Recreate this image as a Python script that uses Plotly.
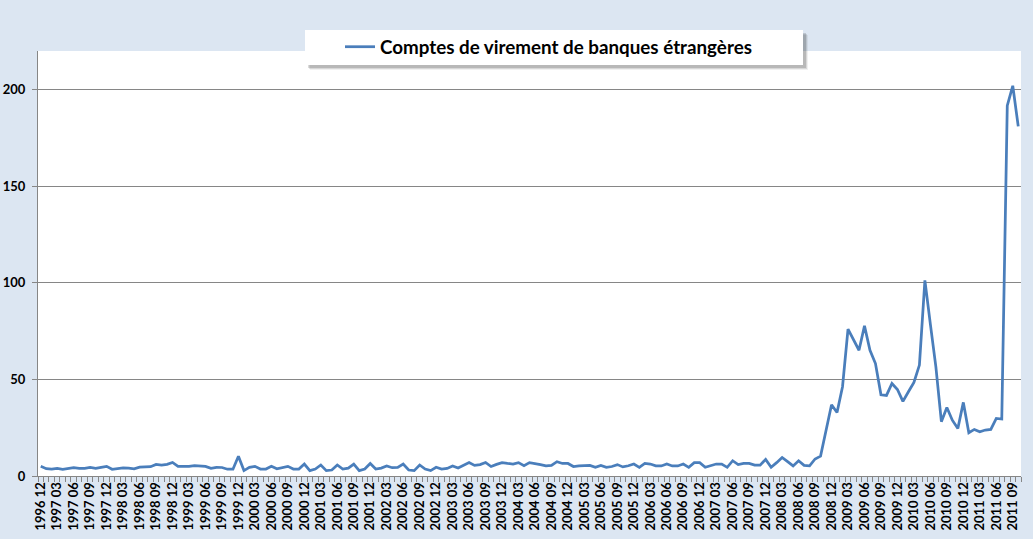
import plotly.graph_objects as go

# Comptes de virement de banques étrangères, monthly, 1996-12 .. 2011-10
start_year, start_month = 1996, 12

vals_1996_2000 = [
    5.0,                                                        # 1996-12
    3.8, 3.6, 3.9, 3.5, 3.8, 4.3, 4.0, 4.0, 4.4, 4.0, 4.5, 5.0,  # 1997
    3.5, 4.0, 4.2, 4.1, 3.7, 4.6, 4.7, 4.8, 6.0, 5.6, 6.0, 7.0,  # 1998
    5.0, 5.0, 5.0, 5.4, 5.1, 5.0, 4.0, 4.5, 4.4, 3.5, 3.5, 10.2,  # 1999
    2.8, 4.5, 5.0, 3.6, 3.6, 5.0, 3.7, 4.2, 5.0, 3.6, 3.6, 6.2,  # 2000
]
vals_2001_2005 = [
    2.8, 3.6, 5.7, 2.8, 3.1, 5.7, 3.6, 4.1, 6.2, 2.8, 3.6, 6.5,  # 2001
    3.6, 4.1, 5.2, 4.3, 4.5, 6.2, 3.1, 2.8, 5.7, 3.6, 2.8, 4.5,  # 2002
    3.6, 3.9, 5.2, 4.1, 5.7, 7.0, 5.5, 5.9, 7.0, 4.9, 6.0, 6.9,  # 2003
    6.5, 6.2, 6.9, 5.3, 6.9, 6.5, 5.9, 5.2, 5.5, 7.4, 6.5, 6.5,  # 2004
    4.9, 5.2, 5.5, 5.5, 4.5, 5.5, 4.5, 4.9, 5.9, 4.7, 5.3, 6.2,  # 2005
]
vals_2006_2011 = [
    4.5, 6.5, 6.2, 5.3, 5.2, 6.2, 5.2, 5.2, 6.2, 4.5, 6.9, 6.9,  # 2006
    4.5, 5.3, 6.2, 6.2, 4.5, 7.9, 5.9, 6.5, 6.5, 5.6, 5.6, 8.6,  # 2007
    4.5, 6.9, 9.6, 7.4, 5.2, 7.9, 5.5, 5.3, 8.8, 10.3, 22.9, 36.9,  # 2008
    32.9, 46.2, 76.0, 70.6, 65.1, 77.7, 65.1, 58.2, 42.0, 41.7, 47.9, 44.8,  # 2009
    38.6, 43.6, 48.4, 57.4, 101.3, 78.5, 56.5, 28.1, 35.5, 28.9, 24.6, 38.1,  # 2010
    22.4, 24.1, 22.9, 23.8, 24.1, 29.8, 29.5, 191.7, 202.0, 181.0,  # 2011
]
values = vals_1996_2000 + vals_2001_2005 + vals_2006_2011

months = []
y, m = start_year, start_month
for _ in values:
    months.append(f"{y} {m:02d}")
    m += 1
    if m > 12:
        y, m = y + 1, 1

x_idx = list(range(len(values)))
label_idx = x_idx[::3]
label_txt = [months[i] for i in label_idx]

BG = "#DCE6F2"
LINE = "#4A7EBB"
GRID = "#868686"
FONT = "Lato"

fig = go.Figure()
fig.add_trace(go.Scatter(
    x=x_idx, y=values,
    mode="lines",
    name="Comptes de virement de banques étrangères",
    line=dict(color=LINE, width=2.75),
    hovertext=months,
))

W, H = 1033, 539
L, R, T, B = 38, 12, 51, 63
pw, ph = W - L - R, H - T - B


def px_x(px):
    return (px - L) / pw


def px_y(py):
    return (H - B - py) / ph


# legend box with soft shadow
for off, alpha in [(5, 0.06), (4, 0.10), (3, 0.14)]:
    fig.add_shape(type="rect", xref="paper", yref="paper",
                  x0=px_x(305 + off), x1=px_x(803 + off),
                  y0=px_y(65 + off), y1=px_y(30 + off),
                  fillcolor=f"rgba(0,0,0,{alpha})", line_width=0, layer="above")
fig.add_shape(type="rect", xref="paper", yref="paper",
              x0=px_x(305), x1=px_x(803), y0=px_y(65), y1=px_y(30),
              fillcolor="white", line_width=0, layer="above")

fig.update_layout(
    width=W, height=H,
    margin=dict(l=L, r=R, t=T, b=B, autoexpand=False),
    paper_bgcolor=BG,
    plot_bgcolor="white",
    font=dict(family=FONT, color="black"),
    showlegend=True,
    legend=dict(
        x=px_x(340), y=px_y(47), xanchor="left", yanchor="middle",
        bgcolor="rgba(0,0,0,0)",
        font=dict(family=FONT, size=18.8, color="black", weight="bold"),
    ),
    hovermode="x",
)
fig.update_xaxes(
    range=[-0.5, len(values) - 0.5],
    tickmode="array", tickvals=label_idx, ticktext=label_txt,
    tickangle=-90, ticks="", automargin=False,
    tickfont=dict(family=FONT, size=13, color="black", weight="bold"),
    showgrid=False, zeroline=False,
    showline=True, linecolor=GRID, linewidth=1,
    minor=dict(ticks="outside", tick0=-0.5, dtick=1, ticklen=5,
               tickcolor=GRID, tickwidth=1, showgrid=False),
)
fig.update_yaxes(
    range=[0, 220], dtick=50, tick0=0, automargin=False,
    ticks="outside", ticklen=5, tickcolor=GRID, ticklabelstandoff=4,
    tickfont=dict(family=FONT, size=13, color="black", weight="bold"),
    showgrid=True, gridcolor=GRID, gridwidth=1,
    zeroline=False,
    showline=True, linecolor=GRID, linewidth=1,
)

fig.write_html(
    "out.html",
    config={"displayModeBar": False},
    post_script="document.body.style.margin='0';"
                "document.body.style.background='%s';" % BG,
)
